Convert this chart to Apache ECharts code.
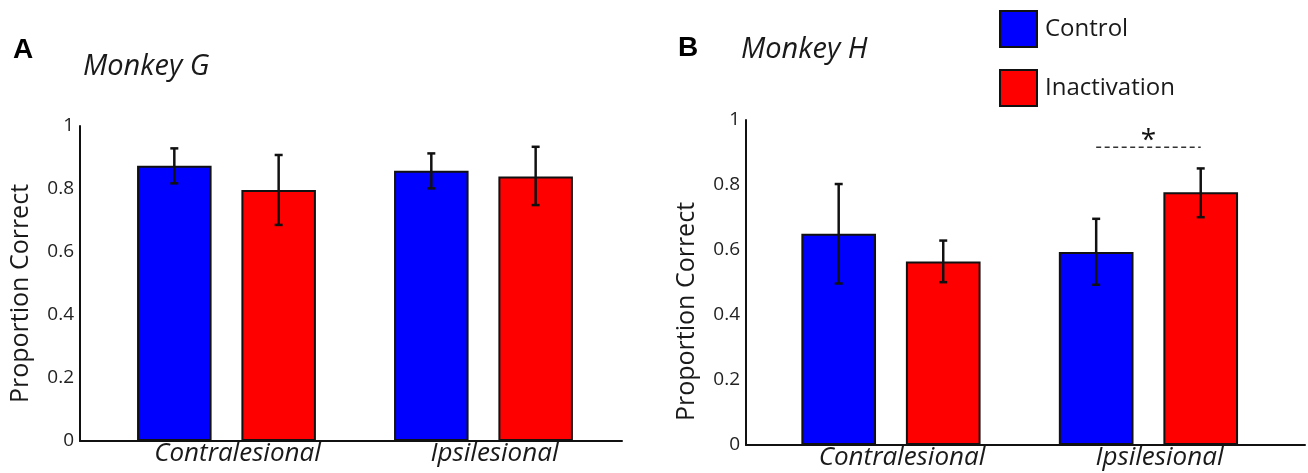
<!DOCTYPE html>
<html>
<head>
<meta charset="utf-8">
<script src="https://cdn.jsdelivr.net/npm/echarts@6/dist/echarts.min.js"></script>
<style>
html,body{margin:0;padding:0;background:#fff;}
#chart{width:1308px;height:473px;}
</style>
</head>
<body>
<div id="chart"></div>
<script>
// ---- data ----
const categories = ['Contralesional', 'Ipsilesional'];
const seriesNames = ['Control', 'Inactivation'];
const yTicks = [0, 0.2, 0.4, 0.6, 0.8, 1];

// Monkey G (panel A)
const gControl = [0.874, 0.858];
const gControlLow = [0.818, 0.802];
const gControlHigh = [0.929, 0.913];
const gInact = [0.797, 0.840];
const gInactLow = [0.686, 0.749];
const gInactHigh = [0.908, 0.934];

// Monkey H (panel B)
const hControl = [0.650, 0.594];
const hControlLow = [0.497, 0.493];
const hControlHigh = [0.803, 0.696];
const hInact = [0.565, 0.778];
const hInactLow = [0.501, 0.701];
const hInactHigh = [0.629, 0.851];

// significance marker (panel B, Ipsilesional)
const sigCategory = [1];
const sigLevel = [0.916];
const sigLabel = ['*'];

// ---- layout helpers ----
const BAR_W = 0.29;   // fraction of category spacing
const BAR_GAP = 0.40; // fraction of bar width
const FONT = '"Open Sans", "Noto Sans", sans-serif';
const TXT = '#1a1a1a';

function toPairs(vals) { return vals.map((v, i) => [i, v]); }
function errData(lo, hi, which) { return lo.map((l, i) => [i, l, hi[i], which]); }

function barOffset(api, which) {
  const unit = api.size([1, 0])[0];
  const bw = unit * BAR_W;
  const gap = bw * BAR_GAP;
  return (which === 0 ? -1 : 1) * (bw + gap) / 2;
}

function errRender(params, api) {
  const cat = api.value(0), lo = api.value(1), hi = api.value(2), which = api.value(3);
  const off = barOffset(api, which);
  const pLo = api.coord([cat, lo]);
  const pHi = api.coord([cat, hi]);
  const x = pLo[0] + off;
  const cap = 4;
  const st = { stroke: '#111', lineWidth: 2.5 };
  return {
    type: 'group',
    children: [
      { type: 'line', shape: { x1: x, y1: pLo[1], x2: x, y2: pHi[1] }, style: st },
      { type: 'line', shape: { x1: x - cap, y1: pHi[1], x2: x + cap, y2: pHi[1] }, style: st },
      { type: 'line', shape: { x1: x - cap, y1: pLo[1], x2: x + cap, y2: pLo[1] }, style: st }
    ]
  };
}

function sigRender(params, api) {
  const cat = api.value(0), lvl = api.value(1);
  const p = api.coord([cat, lvl]);
  const l = p[0] + barOffset(api, 0);
  const r = p[0] + barOffset(api, 1);
  return {
    type: 'group',
    children: [
      { type: 'line', shape: { x1: l, y1: p[1], x2: r, y2: p[1] },
        style: { stroke: '#333', lineWidth: 1.6, lineDash: [5, 3.5] } },
      { type: 'text', x: p[0], y: p[1] + 8,
        style: { text: sigLabel[params.dataIndex], fill: '#111', font: '28px ' + FONT,
                 align: 'center', verticalAlign: 'bottom' } }
    ]
  };
}

function xAxisFor(gridIndex, min, max) {
  return {
    type: 'value', gridIndex, min, max,
    axisLine: { show: true, onZero: false, lineStyle: { color: '#111', width: 2 } },
    axisTick: { show: false },
    splitLine: { show: false },
    axisLabel: {
      customValues: [0, 1],
      formatter: v => categories[Math.round(v)],
      fontFamily: FONT, fontStyle: 'italic', fontSize: 26, color: TXT,
      margin: 0, padding: [0, 0, 0, 22]
    }
  };
}

function yAxisFor(gridIndex, namePadRight) {
  return {
    type: 'value', gridIndex, min: 0, max: 1, interval: 0.2,
    name: 'Proportion Correct', nameLocation: 'middle', nameGap: 47, nameRotate: 90,
    nameTextStyle: { fontFamily: FONT, fontSize: 25, color: TXT, padding: [0, namePadRight, 0, 0] },
    axisLine: { show: true, onZero: false, lineStyle: { color: '#111', width: 2 } },
    axisTick: { show: false },
    splitLine: { show: false },
    axisLabel: {
      customValues: yTicks,
      fontFamily: FONT, fontSize: 19, color: '#222', margin: 6,
      formatter: v => String(+v.toFixed(1))
    }
  };
}

function barSeries(name, vals, color, axisIdx) {
  return {
    name, type: 'bar', xAxisIndex: axisIdx, yAxisIndex: axisIdx,
    data: toPairs(vals),
    barWidth: (BAR_W * 100) + '%',
    barGap: (BAR_GAP * 100) + '%',
    itemStyle: { color, borderColor: '#111', borderWidth: 2 },
    emphasis: { disabled: true },
    z: 2
  };
}

function errSeries(lo, hi, which, axisIdx) {
  return {
    type: 'custom', xAxisIndex: axisIdx, yAxisIndex: axisIdx,
    data: errData(lo, hi, which),
    renderItem: errRender,
    z: 5, silent: true
  };
}

const BLUE = '#0000ff', RED = '#ff0000';

const option = {
  animation: false,
  backgroundColor: '#fff',
  textStyle: { fontFamily: FONT },
  title: [
    { text: 'A', left: 8, top: 31, textStyle: { fontFamily: 'Liberation Sans, Arial, sans-serif', fontWeight: 'bold', fontSize: 28, color: '#000' } },
    { text: 'Monkey G', left: 78, top: 47, textStyle: { fontFamily: FONT, fontStyle: 'italic', fontWeight: 'normal', fontSize: 29, color: TXT } },
    { text: 'B', left: 673, top: 29, textStyle: { fontFamily: 'Liberation Sans, Arial, sans-serif', fontWeight: 'bold', fontSize: 28, color: '#000' } },
    { text: 'Monkey H', left: 736, top: 30, textStyle: { fontFamily: FONT, fontStyle: 'italic', fontWeight: 'normal', fontSize: 29, color: TXT } }
  ],
  legend: {
    data: seriesNames,
    orient: 'vertical', left: 999, top: 10, padding: 0,
    itemWidth: 37, itemHeight: 36, itemGap: 21,
    icon: 'rect',
    itemStyle: { borderColor: '#111', borderWidth: 2 },
    textStyle: { fontFamily: FONT, fontSize: 24, color: TXT, padding: [0, 0, 0, 3] },
    selectedMode: false
  },
  grid: [
    { left: 80, top: 126, width: 542, height: 315, outerBoundsMode: 'none', containLabel: false },
    { left: 746, top: 120, width: 559, height: 325, outerBoundsMode: 'none', containLabel: false }
  ],
  xAxis: [xAxisFor(0, -0.570, 1.539), xAxisFor(1, -0.563, 1.608)],
  yAxis: [yAxisFor(0, 20), yAxisFor(1, 58)],
  series: [
    barSeries('Control', gControl, BLUE, 0),
    barSeries('Inactivation', gInact, RED, 0),
    errSeries(gControlLow, gControlHigh, 0, 0),
    errSeries(gInactLow, gInactHigh, 1, 0),
    barSeries('Control', hControl, BLUE, 1),
    barSeries('Inactivation', hInact, RED, 1),
    errSeries(hControlLow, hControlHigh, 0, 1),
    errSeries(hInactLow, hInactHigh, 1, 1),
    {
      type: 'custom', xAxisIndex: 1, yAxisIndex: 1,
      data: sigCategory.map((c, i) => [c, sigLevel[i]]),
      renderItem: sigRender, z: 6, silent: true
    }
  ]
};

const chart = echarts.init(document.getElementById('chart'), null, { renderer: 'canvas' });
chart.setOption(option);
</script>
</body>
</html>
